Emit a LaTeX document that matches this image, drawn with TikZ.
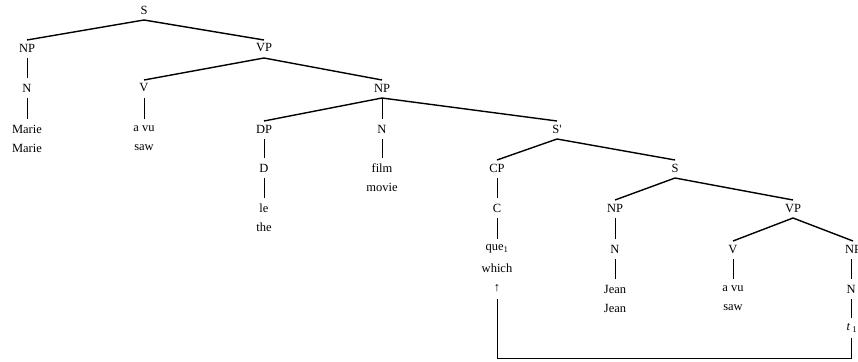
\documentclass[tikz,border=0pt]{standalone}
\usepackage{fontspec}
\setmainfont{Liberation Serif}
\newfontfamily\plainf{Liberation Serif}
\begin{document}
\begin{tikzpicture}[x=1pt,y=1pt,
  lab/.style={inner sep=0pt, font=\fontsize{12.5}{14}\selectfont},
  br/.style={line width=1.4pt},
  vr/.style={line width=0.9pt}]
\useasboundingbox (0,0) rectangle (858,-361);
% row 0-1
\node[lab] (S0) at (144,-10) {S};
\node[lab] (NP1) at (27,-48) {NP};
\node[lab] (VP1) at (264,-48) {VP};
% row 2
\node[lab] (N1) at (27,-88) {N};
\node[lab] (V1) at (144,-88) {V};
\node[lab] (NP2) at (382,-88) {NP};
% row 3
\node[lab] (marie) at (27,-129) {Marie};
\node[lab] (marieg) at (27,-148) {Marie};
\node[lab] (avu1) at (144,-129) {a vu};
\node[lab] (saw1) at (144,-148) {saw};
\node[lab] (DP) at (264,-129) {DP};
\node[lab] (N2) at (382,-129) {N};
\node[lab] (Sbar) at (557,-129) {\plainf S'};
% row 4
\node[lab] (D) at (264,-168) {D};
\node[lab] (film) at (382,-168) {film};
\node[lab] (movie) at (382,-187) {movie};
\node[lab] (CP) at (497,-168) {CP};
\node[lab] (S2) at (675,-168) {S};
% row 5
\node[lab] (le) at (264,-208) {le};
\node[lab] (the) at (264,-227) {the};
\node[lab] (C) at (497,-208) {C};
\node[lab] (NP3) at (615,-208) {NP};
\node[lab] (VP2) at (793,-208) {VP};
% row 6
\node[lab] (que) at (497,-249) {que\textsubscript{1}};
\node[lab] (which) at (497,-268) {which};
\node[lab] (up) at (497,-288) {↑};
\node[lab] (N3) at (615,-249) {N};
\node[lab] (V2) at (733,-249) {V};
\node[lab] (NP4) at (853,-249) {NP};
% row 7
\node[lab] (jean) at (615,-289) {Jean};
\node[lab] (jeang) at (615,-308) {Jean};
\node[lab] (avu2) at (733,-289) {a vu};
\node[lab] (saw2) at (733,-308) {saw};
\node[lab] (N4) at (851,-289) {N};
% row 8
\node[lab] (t1) at (852,-328) {\textit{t}\,\textsubscript{1}};
% branches
\foreach \p/\c in {S0/NP1,S0/VP1,VP1/V1,VP1/NP2,NP2/DP,NP2/Sbar,Sbar/CP,Sbar/S2,S2/NP3,S2/VP2,VP2/V2,VP2/NP4}
  \draw[br] ([yshift=-10pt]\p.center) -- ([yshift=8pt]\c.center);
\foreach \p/\c in {NP1/N1,N1/marie,V1/avu1,N2/film,DP/D,D/le,CP/C,C/que,NP3/N3,N3/jean,V2/avu2,NP2/N2}
  \draw[vr] ([yshift=-10pt]\p.center) -- ([yshift=10pt]\c.center);
\coordinate (npx) at (851,-249);
\draw[vr] ([yshift=-10pt]npx) -- (851,-279);
\draw[vr] (851,-299) -- (851,-318);
\draw[vr] (851,-338) -- (851,-358) -| ([yshift=-11pt]up.center);
\end{tikzpicture}
\end{document}
